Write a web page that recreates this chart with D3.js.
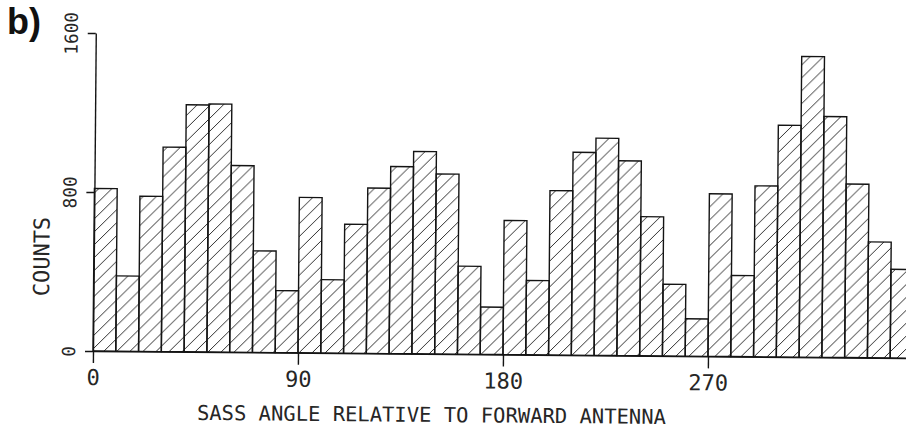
<!DOCTYPE html>
<html>
<head>
<meta charset="utf-8">
<script src="https://cdn.jsdelivr.net/npm/d3@7"></script>
<style>
  body { margin: 0; background: #fff; }
  svg { display: block; }
</style>
</head>
<body>
<svg id="chart" width="906" height="445"></svg>
<script>
// Angle bins (start of each 10-degree bin)
const binStarts = [0, 10, 20, 30, 40, 50, 60, 70, 80, 90, 100, 110, 120, 130, 140, 150, 160, 170,
                   180, 190, 200, 210, 220, 230, 240, 250, 260, 270, 280, 290, 300, 310, 320, 330, 340, 350];
// Counts per bin
const counts = [818, 379, 781, 1029, 1243, 1248, 939, 511, 312, 782, 369, 649, 832, 941, 1018, 906, 443, 238,
                675, 374, 827, 1021, 1093, 980, 700, 361, 188, 818, 408, 860, 1166, 1513, 1212, 873, 583, 446];
const binWidth = 10;
const xTicks = [0, 90, 180, 270];
const yTicks = [0, 800, 1600];
const xTitle = "SASS ANGLE RELATIVE TO FORWARD ANTENNA";
const yTitle = "COUNTS";
const panelLabel = "b)";

const bins = binStarts.map((s, i) => ({ start: s, value: counts[i] }));

const svg = d3.select("#chart");
const ink = "#141414";
const textInk = "#262626";
const mono = "'DejaVu Sans Mono', 'Liberation Mono', monospace";

const x0 = 93, yBase = 351;
const x = d3.scaleLinear().domain([0, 360]).range([x0, 913]);
const y = d3.scaleLinear().domain([0, 1600]).range([yBase, 33]);

// diagonal hatching for the bars
const defs = svg.append("defs");
const pat = defs.append("pattern")
  .attr("id", "hatch")
  .attr("patternUnits", "userSpaceOnUse")
  .attr("width", 13).attr("height", 13);
pat.append("path")
  .attr("d", "M-1,1 l2,-2 M0,13 l13,-13 M12,14 l2,-2")
  .attr("stroke", "#222")
  .attr("stroke-width", 0.95)
  .attr("fill", "none");

// plotted sheet sits at a slight angle
const g = svg.append("g").attr("transform", `rotate(0.5, ${x0}, ${yBase})`);

// bars
g.append("g").selectAll("rect")
  .data(bins)
  .join("rect")
  .attr("x", d => x(d.start))
  .attr("width", d => x(d.start + binWidth) - x(d.start))
  .attr("y", d => y(d.value))
  .attr("height", d => y(0) - y(d.value))
  .attr("fill", "url(#hatch)")
  .attr("stroke", ink)
  .attr("stroke-width", 1.4);

// y axis
const yAxis = g.append("g")
  .attr("transform", `translate(${x0},0)`)
  .call(d3.axisLeft(y).tickValues(yTicks).tickSize(8).tickSizeOuter(0).tickFormat(d3.format("d")));
yAxis.select(".domain").attr("stroke", ink).attr("stroke-width", 1.4);
yAxis.selectAll(".tick line").attr("stroke", ink).attr("stroke-width", 1.4);
yAxis.selectAll(".tick text")
  .attr("x", null).attr("dy", null)
  .attr("transform", "translate(-18,0) rotate(-90)")
  .attr("text-anchor", "middle")
  .attr("font-family", mono)
  .attr("font-size", 18)
  .attr("textLength", d => String(d).length * 10.7)
  .attr("lengthAdjust", "spacingAndGlyphs")
  .attr("fill", textInk);

// x axis
const xAxis = g.append("g")
  .attr("transform", `translate(0,${yBase})`)
  .call(d3.axisBottom(x).tickValues(xTicks).tickSize(12).tickSizeOuter(0).tickFormat(d3.format("d")));
xAxis.select(".domain").attr("stroke", ink).attr("stroke-width", 1.4);
xAxis.selectAll(".tick line").attr("stroke", ink).attr("stroke-width", 1.4);
xAxis.selectAll(".tick text")
  .attr("y", 34).attr("dy", null)
  .attr("text-anchor", "middle")
  .attr("font-family", mono)
  .attr("font-size", 22)
  .attr("fill", textInk);

// axis titles
g.append("text")
  .attr("x", 432).attr("y", 419)
  .attr("text-anchor", "middle")
  .attr("font-family", mono)
  .attr("font-size", 20.5)
  .attr("fill", textInk)
  .text(xTitle);

g.append("text")
  .attr("transform", "translate(48.5,257) rotate(-90)")
  .attr("text-anchor", "middle")
  .attr("font-family", mono)
  .attr("font-size", 22)
  .attr("fill", textInk)
  .text(yTitle);

// panel label
svg.append("text")
  .attr("x", 7).attr("y", 34)
  .attr("font-family", "'Liberation Sans', Arial, sans-serif")
  .attr("font-weight", "bold")
  .attr("font-size", 36)
  .attr("fill", "#111")
  .text(panelLabel);
</script>
</body>
</html>
